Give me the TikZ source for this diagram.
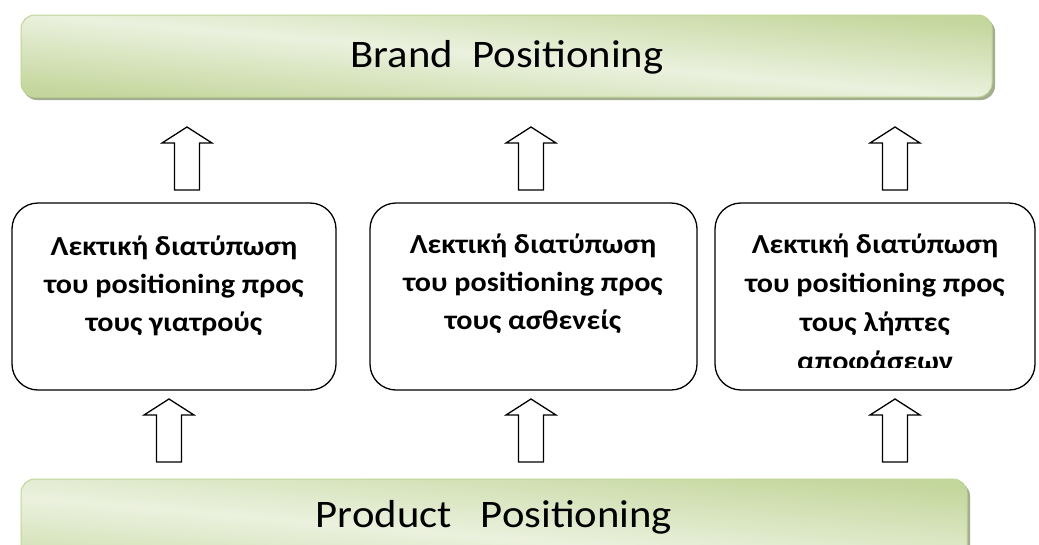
\documentclass[tikz,border=0pt]{standalone}
\usepackage{fontspec}
\usepackage{graphicx}
\setmainfont{Carlito}
\definecolor{bandlight}{HTML}{EBF1DE}
\definecolor{banddark}{HTML}{C3D69B}
\definecolor{bandedge}{HTML}{C0D597}
\definecolor{bandshadow}{HTML}{A3AD90}
% light band along the diagonal, darker towards two opposite corners
\pgfdeclareverticalshading{bandshade}{100bp}{%
  color(0bp)=(banddark); color(25bp)=(banddark); color(50bp)=(bandlight);
  color(75bp)=(banddark); color(100bp)=(banddark)}
% slightly widened lettering
\newcommand\widetext[1]{\scalebox{1.095}[1]{#1}}
\tikzset{
  banner/.style={draw=bandedge, line width=1pt, rounded corners=14pt,
    shading=bandshade, shading angle=-5},
  bannershadow/.style={fill=bandshadow, rounded corners=14pt},
  bannertext/.style={font=\fontsize{39}{44}\selectfont, text=black, anchor=base},
  msgbox/.style={draw=black, line width=1.3pt, rounded corners=26pt, fill=white},
  msgtext/.style={font=\fontsize{27.5}{38}\selectfont\bfseries, align=center,
    anchor=base, inner sep=0pt},
  blockarrow/.pic={
    \draw[line width=1.3pt, fill=white, line join=miter]
      (0,0) -- (25,16) -- (12.5,16) -- (12.5,63) -- (-12.5,63)
      -- (-12.5,16) -- (-25,16) -- cycle;
  }
}
\begin{document}
\begin{tikzpicture}[x=1pt, y=-1pt]
\useasboundingbox (0,0) rectangle (1039,544);
\begin{scope}
\clip (0,0) rectangle (1039,544);

% top banner
\fill[bannershadow] (23,18) rectangle (995,100);
\shade[banner] (21,15) rectangle (992,97);
\node[bannertext] (brand) at (507,67) {\widetext{Brand\ \ Positioning}};

% bottom banner (runs past the lower edge)
\fill[bannershadow] (23,482) rectangle (970,600);
\shade[banner] (21,479) rectangle (967,597);
\node[bannertext] (product) at (494,527) {\widetext{Product\ \ \ Positioning}};

% message boxes
\draw[msgbox] (12,203) rectangle (336,390);
\coordinate (box1) at (174,296);
\draw[msgbox] (370,203) rectangle (697,390);
\coordinate (box2) at (533,296);
\draw[msgbox] (715,203) rectangle (1035,390);
\coordinate (box3) at (875,296);

\node[msgtext] (t1) at (174,331) {\widetext{Λεκτική διατύπωση}\\\widetext{του positioning προς}\\\widetext{τους γιατρούς}};
\node[msgtext] (t2) at (533,329) {\widetext{Λεκτική διατύπωση}\\\widetext{του positioning προς}\\\widetext{τους ασθενείς}};
% the fourth line runs past the text frame and is cut off
\begin{scope}
  \clip (715,210) rectangle (1035,367);
  \node[msgtext, font=\fontsize{27.5}{39}\selectfont\bfseries] (t3) at (875,370)
    {\widetext{Λεκτική διατύπωση}\\\widetext{του positioning προς}\\\widetext{τους λήπτες}\\\widetext{αποφάσεων}};
\end{scope}

% block arrows
\pic (up1) at (187,127) {blockarrow};
\pic (up2) at (531,127) {blockarrow};
\pic (up3) at (895,127) {blockarrow};
\pic (in1) at (169,399) {blockarrow};
\pic (in2) at (531,399) {blockarrow};
\pic (in3) at (895,399) {blockarrow};
\end{scope}
\end{tikzpicture}
\end{document}
